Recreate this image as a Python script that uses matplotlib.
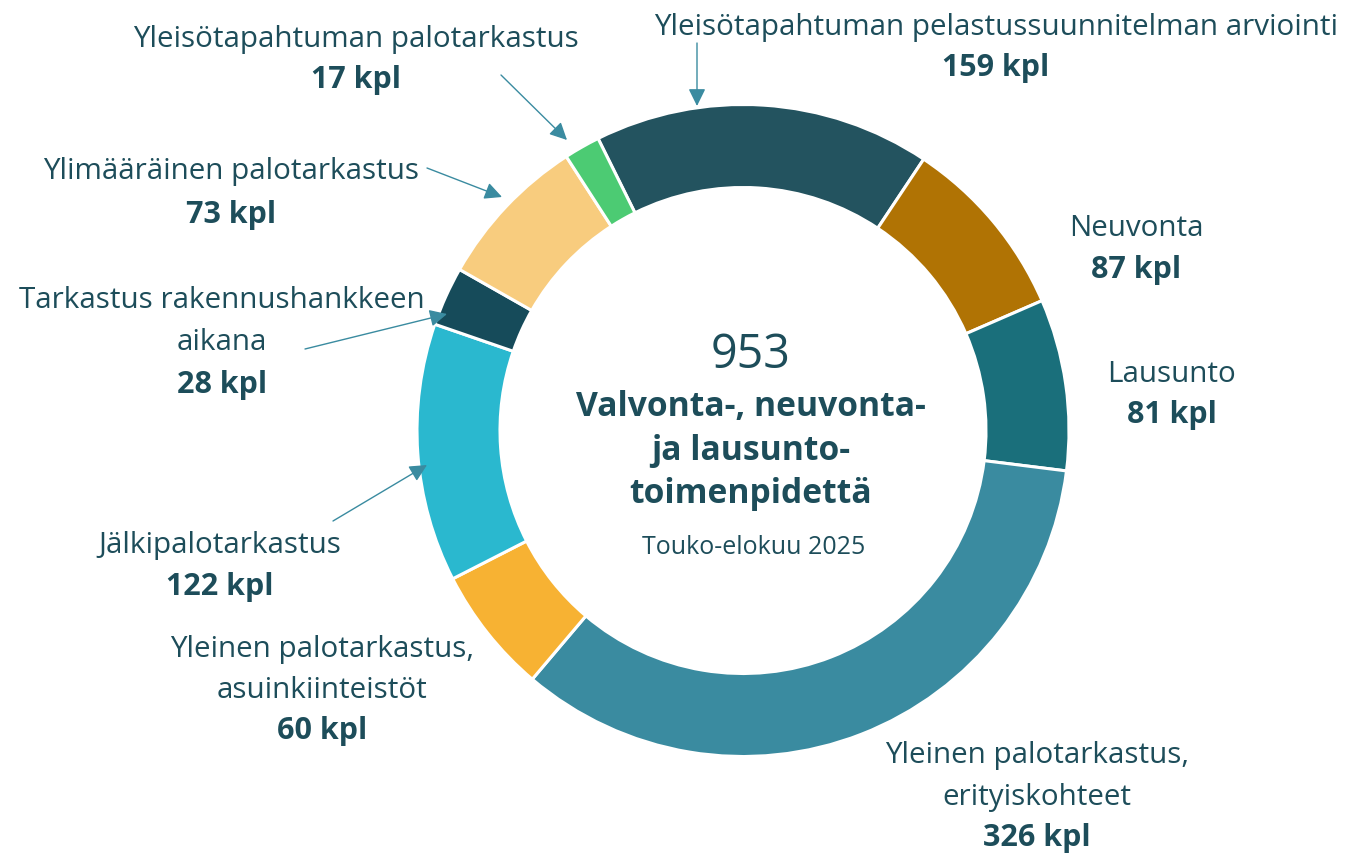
import matplotlib
matplotlib.use("Agg")
import matplotlib.pyplot as plt

# ---- data ----
categories = [
    "Yleisötapahtuman pelastussuunnitelman arviointi",
    "Neuvonta",
    "Lausunto",
    "Yleinen palotarkastus,\nerityiskohteet",
    "Yleinen palotarkastus,\nasuinkiinteistöt",
    "Jälkipalotarkastus",
    "Tarkastus rakennushankkeen\naikana",
    "Ylimääräinen palotarkastus",
    "Yleisötapahtuman palotarkastus",
]
values = [159, 87, 81, 326, 60, 122, 28, 73, 17]
colors = ["#23535F", "#B07304", "#1A6F7B", "#3A8BA0", "#F7B233",
          "#2AB8CF", "#164B5A", "#F8CC7E", "#4CCB73"]
total_value = 953
center_title = "Valvonta-, neuvonta-\nja lausunto-\ntoimenpidettä"
center_sub = "Touko-elokuu 2025"
unit = "kpl"

# ---- styling / layout ----
W, H = 1363, 858
TXT = "#1D4D5A"
ARW = "#3A8BA0"
FONT = "Open Sans"
plt.rcParams["font.family"] = [FONT, "DejaVu Sans"]

fig = plt.figure(figsize=(W / 100, H / 100), dpi=100)
ax = fig.add_axes([0, 0, 1, 1])

cx, cy = 743, H - 430.5
R = 326
ring = 83
ax.pie(values, colors=colors, startangle=116.4, counterclock=False,
       radius=R, center=(cx, cy),
       wedgeprops=dict(width=ring, edgecolor="white", linewidth=2.2))
ax.set_xlim(0, W)
ax.set_ylim(0, H)
ax.set_aspect("auto")
ax.axis("off")

def Y(y):
    return H - y

LS = 21.3   # label size
BS = 22.0   # bold value size

# label positions: (x center, y of name line(s) center, y of value center)
label_pos = [
    (996, [27], 68),
    (1136, [228], 270),
    (1172, [375], 415),
    (1037, [756, 797], 838),
    (322, [649, 690], 731),
    (220, [545], 587),
    (222, [300, 343], 385),
    (231, [172], 215),
    (356, [40], 80),
]

for cat, v, (x, ys, yv) in zip(categories, values, label_pos):
    for line, yy in zip(cat.split("\n"), ys):
        ax.text(x, Y(yy), line, ha="center", va="center", fontsize=LS,
                color=TXT, family=[FONT, "DejaVu Sans"])
    ax.text(x, Y(yv), f"{v} {unit}", ha="center", va="center", fontsize=BS,
            fontweight="bold", color=TXT, family=[FONT, "DejaVu Sans"])

# arrows (tail -> head) in pixel coords
arrows = [
    ((697, 43), (697, 106)),
    ((501, 75), (567, 140)),
    ((427, 168), (502, 197)),
    ((305, 349), (447, 314)),
    ((333, 521), (427, 465)),
]
for (x0, y0), (x1, y1) in arrows:
    ax.annotate("", xy=(x1, Y(y1)), xytext=(x0, Y(y0)),
                arrowprops=dict(arrowstyle="-|>,head_length=0.75,head_width=0.37",
                                color=ARW, lw=1.0, mutation_scale=14,
                                shrinkA=0, shrinkB=0))

# center texts
ax.text(751, Y(355), f"{total_value}", ha="center", va="center",
        fontsize=33.5, color=TXT)
for line, yy in zip(center_title.split("\n"), [407, 451, 494]):
    ax.text(751, Y(yy), line, ha="center", va="center", fontsize=24.2,
            fontweight="bold", color=TXT)
ax.text(754, Y(548), center_sub, ha="center", va="center",
        fontsize=18, color=TXT)

fig.savefig("out.png", dpi=100, facecolor="white")
